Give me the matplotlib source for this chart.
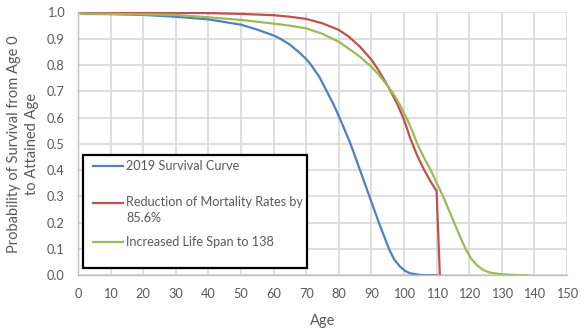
import matplotlib
matplotlib.use("Agg")
import matplotlib.pyplot as plt
from matplotlib.lines import Line2D
from matplotlib.patches import Rectangle

# ---- data ----
age_2019 = [0, 1, 10, 20, 30, 40, 50, 55, 60, 62, 65, 68, 70, 71.5, 74, 76.3, 78.3,
            80.2, 83.6, 86.5, 89.4, 92.3, 95.4, 97, 98.8, 100.3, 101.8, 105, 110]
surv_2019 = [1.0, 0.994, 0.993, 0.99, 0.983, 0.973, 0.953, 0.934, 0.912, 0.9, 0.877,
             0.846, 0.822, 0.8, 0.755, 0.7, 0.652, 0.6, 0.5, 0.4, 0.3, 0.2, 0.1, 0.06,
             0.033, 0.017, 0.008, 0.001, 0.0]

age_red = [0, 10, 20, 30, 40, 50, 60, 65, 70, 75, 80, 83, 86.5, 90, 92, 94, 96, 98,
           100, 102, 104, 106, 108, 110, 111]
surv_red = [1.0, 0.999, 0.999, 0.998, 0.997, 0.994, 0.989, 0.983, 0.975, 0.958, 0.933,
            0.908, 0.869, 0.82, 0.783, 0.742, 0.698, 0.65, 0.592, 0.518, 0.457, 0.405,
            0.36, 0.32, 0.0]

age_green = [0, 1, 10, 20, 30, 40, 50, 60, 65, 70, 75, 80, 83, 86.5, 90, 92.6, 95, 97,
             99, 101, 102.5, 104, 106, 108.2, 110, 112, 113.7, 115.4, 117.2, 118.9,
             120.5, 122.3, 124.3, 126.4, 130, 134, 138]
surv_green = [1.0, 0.995, 0.994, 0.992, 0.99, 0.981, 0.971, 0.957, 0.949, 0.939, 0.918,
              0.888, 0.862, 0.831, 0.793, 0.758, 0.72, 0.685, 0.643, 0.592, 0.55, 0.502,
              0.45, 0.4, 0.352, 0.3, 0.25, 0.2, 0.147, 0.1, 0.065, 0.039, 0.02, 0.01,
              0.004, 0.001, 0.0]

labels = ["2019 Survival Curve", "Reduction of Mortality Rates by\n85.6%",
          "Increased Life Span to 138"]
colors = ["#4F81BD", "#C0504D", "#9BBB59"]

x_ticks = list(range(0, 151, 10))
y_ticks = [i / 10 for i in range(11)]

# ---- figure ----
plt.rcParams['font.family'] = ['Lato', 'DejaVu Sans']
fig = plt.figure(figsize=(5.84, 3.32), dpi=100)
ax = fig.add_axes([78 / 584, 1 - 275.3 / 332, (567 - 78) / 584, (275.3 - 12.3) / 332])

ax.set_xlim(0, 150)
ax.set_ylim(0, 1.0)
ax.set_xticks(x_ticks)
ax.set_yticks(y_ticks)
ax.set_yticklabels([f"{v:.1f}" for v in y_ticks])
ax.grid(True, color="#d9d9d9", linewidth=1.2)
ax.set_axisbelow(True)
for s in ["top", "right"]:
    ax.spines[s].set_visible(False)
for s in ["left", "bottom"]:
    ax.spines[s].set_color("#bfbfbf")
    ax.spines[s].set_linewidth(1.0)
ax.tick_params(length=0, labelsize=9.2, labelcolor="#595959")
ax.tick_params(axis="y", pad=9.5)
ax.tick_params(axis="x", pad=9.5)

series = [(age_2019, surv_2019), (age_red, surv_red), (age_green, surv_green)]
for (x, y), c in zip(series, colors):
    ax.plot(x, y, color=c, linewidth=1.6, solid_joinstyle="round")

ax.set_xlabel("Age", fontsize=10.5, color="#595959", labelpad=10)
ax.set_ylabel("Probability of Survival from Age 0\nto Attained Age", fontsize=10.5,
              color="#595959", labelpad=6, linespacing=1.3)

# ---- legend (manual, matching the Excel layout) ----
tr = ax.transAxes
ax.add_patch(Rectangle((0.0102, 0.028), 0.458, 0.429, transform=tr, fill=True,
                       facecolor="white", edgecolor="black", linewidth=1.6, zorder=5))
entry_y = [0.417, 0.274, 0.127]
for lab, c, yy in zip(labels, colors, entry_y):
    ax.add_line(Line2D([0.0307, 0.092], [yy, yy], transform=tr, color=c,
                       linewidth=1.6, zorder=6))
    multi = "\n" in lab
    ax.text(0.098, yy + 0.029 if multi else yy, lab, transform=tr,
            va="top" if multi else "center", ha="left", fontsize=9.1,
            color="#595959", zorder=6, linespacing=1.4)

fig.savefig("out.png", dpi=100)
